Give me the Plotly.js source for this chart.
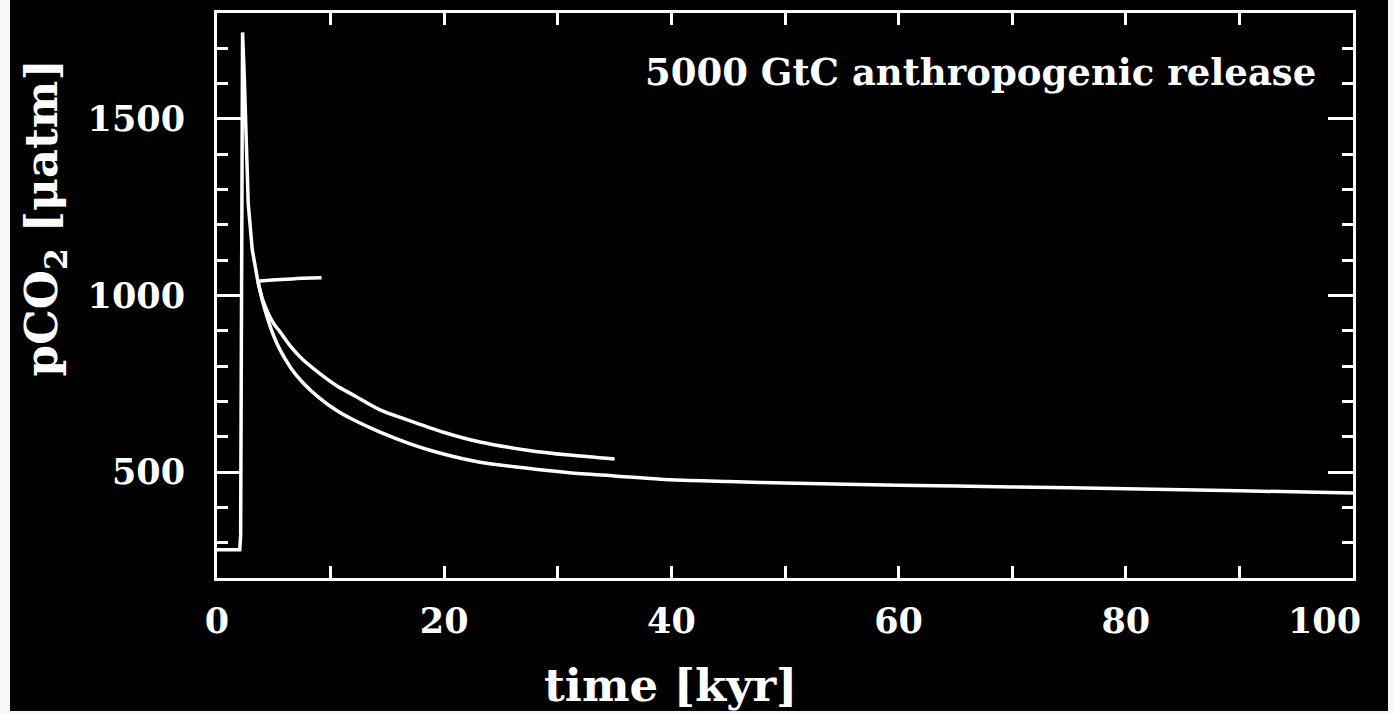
<!DOCTYPE html>
<html>
<head>
<meta charset="utf-8">
<script src="https://cdn.plot.ly/plotly-3.0.1.min.js"></script>
<style>
  html, body { margin: 0; padding: 0; background: #f7f7f7; width: 1394px; height: 714px; overflow: hidden; }
  #chart { position: absolute; left: 10px; top: 0; width: 1378px; height: 711px; }
</style>
</head>
<body>
<div id="chart"></div>
<script>
// Atmospheric pCO2 after a 5000 GtC release: shared spike, then three model runs.
const spikeTime = [0, 2.0, 2.08, 2.16, 2.25, 2.4, 2.5, 2.75, 3.1, 3.6];
const spikePco2 = [280, 280, 320, 1000, 1745, 1620, 1500, 1260, 1130, 1040];

// run ending at ~9 kyr
const shortTime = [3.6, 4.0, 6.6, 9.2];
const shortPco2 = [1040, 1042, 1047, 1050];

// run ending at 35 kyr
const midTime = [3.6, 4.0, 4.5, 5.0, 5.55, 6.5, 7.5, 9.0, 10.5, 12.0, 14.35, 17.0, 20.0, 23.15, 27.3, 31.0, 35.0];
const midPco2 = [1040, 990, 950, 920, 897, 855, 820, 780, 745, 718, 676, 645, 612, 585, 562, 548, 537];

// run extending to 100 kyr
const longTime = [3.6, 4.0, 4.5, 5.0, 5.55, 6.5, 7.5, 9.0, 10.5, 12.0, 14.35, 17.0, 19.6, 23.15, 27.0, 31.0, 35.0, 40.0, 45.0, 50.0, 60.0, 70.0, 80.0, 90.0, 100.0];
const longPco2 = [1040, 985, 930, 885, 846, 795, 755, 710, 675, 648, 613, 580, 554, 528, 512, 498, 489, 478, 473, 469, 463, 458, 453, 447, 441];

// x tick labels; the last one sits flush with the right edge of the frame
const xTickVals = [0, 20, 40, 60, 80, 100];
const xTickText = ['0', '20', '40', '60', '80', '100'];
const yTickVals = [500, 1000, 1500];
const yTickText = ['500', '1000', '1500'];

const FONT = 'DejaVu Serif, Liberation Serif, serif';
const WHITE = '#ffffff';
const TICK_FONT = { family: FONT, size: 35, color: WHITE, weight: 'bold' };

function curve(t, v, shape) {
  return {
    x: t,
    y: v,
    type: 'scatter',
    mode: 'lines',
    line: { color: WHITE, width: 3.5, shape: shape, smoothing: 0.8 },
    hoverinfo: 'skip',
    showlegend: false
  };
}

const data = [
  curve(spikeTime, spikePco2, 'linear'),
  curve(longTime, longPco2, 'spline'),
  curve(midTime, midPco2, 'spline'),
  curve(shortTime, shortPco2, 'spline')
];

const axisCommon = {
  showgrid: false,
  zeroline: false,
  showline: true,
  linecolor: WHITE,
  linewidth: 3,
  mirror: 'ticks',
  ticks: 'inside',
  tickcolor: WHITE,
  tickwidth: 3,
  tickfont: TICK_FONT,
  fixedrange: true
};

const nLast = xTickVals.length - 1;

const layout = {
  width: 1378,
  height: 711,
  margin: { l: 207, r: 35, t: 13, b: 133, pad: 0 },
  paper_bgcolor: '#000000',
  plot_bgcolor: '#000000',
  hovermode: false,
  xaxis: Object.assign({}, axisCommon, {
    range: [0, 100],
    tickmode: 'array',
    tickvals: xTickVals.slice(0, nLast),
    ticktext: xTickText.slice(0, nLast),
    ticklen: 12,
    ticklabelstandoff: 10,
    minor: { tickmode: 'linear', tick0: 0, dtick: 10, ticks: 'inside', ticklen: 12, tickwidth: 3, tickcolor: WHITE, showgrid: false }
  }),
  yaxis: Object.assign({}, axisCommon, {
    range: [200, 1800],
    tickmode: 'array',
    tickvals: yTickVals,
    ticktext: yTickText,
    ticklen: 25,
    ticklabelstandoff: 22,
    minor: { tickmode: 'linear', tick0: 0, dtick: 100, ticks: 'inside', ticklen: 11, tickwidth: 3, tickcolor: WHITE, showgrid: false }
  }),
  annotations: [
    {
      text: xTickText[nLast],
      xref: 'x', yref: 'paper', x: xTickVals[nLast], y: -0.0761,
      xanchor: 'right', yanchor: 'middle', xshift: 10,
      showarrow: false,
      font: TICK_FONT
    },
    {
      text: '5000 GtC anthropogenic release',
      xref: 'paper', yref: 'paper', x: 1, y: 0.896,
      xanchor: 'right', yanchor: 'middle', xshift: -35,
      showarrow: false,
      font: { family: FONT, size: 37, color: WHITE, weight: 'bold' }
    },
    {
      text: 'time [kyr]',
      xref: 'paper', yref: 'paper', x: 0.399, y: -0.19,
      xanchor: 'center', yanchor: 'middle',
      showarrow: false,
      font: { family: FONT, size: 45, color: WHITE, weight: 'bold' }
    },
    {
      text: 'pCO<sub>2</sub> [μatm]',
      xref: 'paper', yref: 'paper', x: -0.152, y: 0.637,
      xanchor: 'center', yanchor: 'middle', textangle: -90,
      showarrow: false,
      font: { family: FONT, size: 45, color: WHITE, weight: 'bold' }
    }
  ]
};

Plotly.newPlot('chart', data, layout, { displayModeBar: false, staticPlot: true });
</script>
</body>
</html>
